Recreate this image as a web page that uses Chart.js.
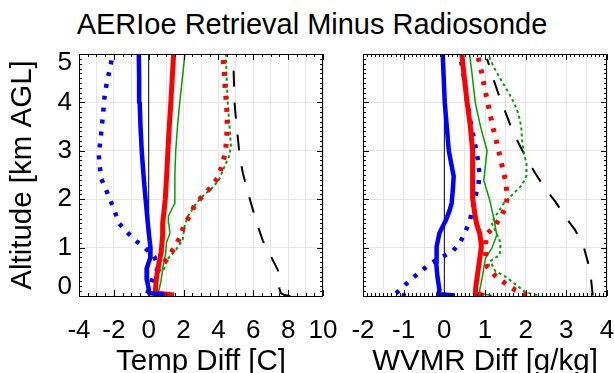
<!DOCTYPE html>
<html>
<head>
<meta charset="utf-8">
<script src="https://cdn.jsdelivr.net/npm/chart.js@4.4.1/dist/chart.umd.min.js"></script>
<style>
  html, body { margin: 0; padding: 0; width: 614px; height: 373px; overflow: hidden; background: #fff; }
  #title { position: absolute; left: 0; top: 10px; width: 624px; text-align: center;
           font: 29px/29px "Liberation Sans", Arial, sans-serif; color: #000; }
  canvas { position: absolute; top: 0; }
</style>
</head>
<body>
<div id="title">AERIoe Retrieval Minus Radiosonde</div>
<canvas id="graficoTemp" width="345" height="385" style="left:0px"></canvas>
<canvas id="graficoWvmr" width="300" height="385" style="left:330px"></canvas>
<script>
// Altitude [km AGL] and difference values

// Temperature panel [C]
const tempAltBlueSolid = [0.02, 0.06, 0.15, 0.35, 0.57, 0.8, 1.0, 1.25, 1.5, 2.0, 2.5, 3.0, 3.5, 4.0, 4.5, 5.0];
const tempBlueSolid = [0.92, 0.02, 0.0, -0.12, -0.12, 0.1, 0.1, 0.02, -0.05, -0.18, -0.3, -0.4, -0.47, -0.52, -0.55, -0.57];

const tempAltRedSolid = [0.02, 0.06, 0.1, 0.37, 0.64, 0.92, 1.26, 1.5, 2.0, 2.5, 3.0, 3.5, 4.0, 4.5, 5.0];
const tempRedSolid = [1.45, 0.4, 0.38, 0.44, 0.57, 0.72, 0.8, 0.8, 0.95, 1.03, 1.1, 1.18, 1.27, 1.35, 1.43];

const tempAltGreenSolid = [0.06, 0.3, 0.6, 0.88, 1.1, 1.3, 1.5, 1.65, 1.9, 2.5, 3.0, 3.5, 4.0, 4.5, 5.0];
const tempGreenSolid = [0.55, 0.7, 0.82, 0.97, 1.02, 1.22, 1.15, 1.13, 1.47, 1.5, 1.55, 1.65, 1.78, 1.93, 2.08];

const tempAltBlueDot = [0.05, 0.38, 0.6, 0.81, 0.99, 1.14, 1.32, 1.5, 1.74, 1.98, 2.22, 2.44, 2.68, 2.94, 3.2, 3.44, 3.68, 3.93, 4.18, 4.43, 4.67, 4.93, 5.0];
const tempBlueDot = [-0.08, 0.25, 0.55, 0.32, -0.2, -0.74, -1.24, -1.7, -1.94, -2.2, -2.48, -2.74, -2.81, -2.87, -2.77, -2.71, -2.64, -2.58, -2.52, -2.39, -2.24, -2.1, -2.07];

const tempAltRedDot = [0.5, 0.62, 0.78, 1.0, 1.23, 1.45, 1.67, 1.9, 2.09, 2.27, 2.48, 2.72, 2.96, 3.22, 3.47, 3.71, 3.96, 4.21, 4.46, 4.7, 4.96, 5.0];
const tempRedDot = [0.5, 0.72, 1.09, 1.47, 1.82, 2.01, 2.37, 2.67, 3.16, 3.63, 4.02, 4.21, 4.4, 4.46, 4.5, 4.5, 4.46, 4.4, 4.36, 4.32, 4.25, 4.24];

const tempAltGreenDot = [0.54, 0.75, 0.96, 1.16, 1.43, 1.64, 1.9, 2.05, 2.22, 2.39, 2.63, 2.87, 3.08, 3.22, 3.56, 3.9, 4.25, 4.6, 4.88, 5.0];
const tempGreenDot = [0.86, 1.05, 1.57, 1.95, 2.05, 2.24, 2.7, 3.06, 3.6, 4.02, 4.3, 4.59, 4.72, 4.69, 4.63, 4.55, 4.5, 4.46, 4.44, 4.44];

const tempAltBlackDash = [0.0, 0.02, 0.06, 0.15, 0.53, 0.84, 1.15, 1.5, 1.84, 2.18, 2.53, 2.87, 3.25, 3.56, 3.97, 5.0];
const tempBlackDash = [8.13, 7.8, 7.58, 7.5, 7.42, 6.98, 6.54, 6.21, 5.93, 5.66, 5.41, 5.22, 5.12, 5.03, 4.93, 4.84];

// Water vapour mixing ratio panel [g/kg]
const wvAltBlueSolid = [0.01, 0.04, 0.12, 0.4, 0.68, 1.02, 1.3, 1.57, 1.77, 1.92, 2.2, 2.47, 3.0, 4.0, 5.0];
const wvBlueSolid = [0.26, -0.15, -0.12, -0.17, -0.2, -0.19, -0.12, 0.04, 0.13, 0.18, 0.21, 0.23, 0.11, 0.01, -0.04];

const wvAltRedSolid = [0.01, 0.05, 0.23, 0.71, 1.01, 1.12, 1.29, 1.47, 1.63, 2.0, 2.52, 3.0, 3.5, 4.0, 4.6, 5.0];
const wvRedSolid = [0.97, 0.76, 0.78, 0.86, 0.91, 0.9, 0.87, 0.8, 0.76, 0.7, 0.7, 0.69, 0.64, 0.56, 0.48, 0.43];

const wvAltGreenSolid = [0.01, 0.05, 0.12, 0.37, 0.78, 0.99, 1.26, 1.63, 2.0, 2.39, 3.0, 3.5, 4.0, 4.6, 5.0];
const wvGreenSolid = [1.17, 0.88, 0.87, 0.93, 1.01, 1.17, 1.29, 1.21, 1.11, 0.97, 1.05, 0.89, 0.76, 0.68, 0.62];

const wvAltBlueDot = [0.0, 0.04, 0.19, 0.37, 0.52, 0.68, 0.8, 0.92, 1.11, 1.33, 1.57, 1.81, 2.05, 2.29, 2.54, 2.79, 3.03, 3.28, 3.53, 3.78, 4.02, 4.27, 4.52, 4.77, 5.0];
const wvBlueDot = [-0.95, -1.21, -1.01, -0.78, -0.56, -0.33, -0.07, 0.2, 0.39, 0.52, 0.63, 0.7, 0.76, 0.84, 0.86, 0.83, 0.78, 0.72, 0.66, 0.61, 0.56, 0.52, 0.48, 0.43, 0.38];

const wvAltRedDot = [0.02, 0.12, 0.26, 0.42, 0.6, 0.8, 1.0, 1.26, 1.45, 1.65, 1.88, 2.12, 2.37, 2.61, 2.85, 3.09, 3.33, 3.58, 3.82, 4.07, 4.32, 4.58, 4.82, 5.0];
const wvRedDot = [2.03, 1.75, 1.5, 1.25, 1.06, 1.02, 1.01, 1.03, 1.24, 1.4, 1.53, 1.54, 1.51, 1.44, 1.38, 1.31, 1.24, 1.17, 1.11, 1.05, 0.98, 0.93, 0.86, 0.82];

const wvAltGreenDot = [0.02, 0.08, 0.24, 0.4, 0.52, 0.72, 0.85, 1.05, 1.15, 1.52, 1.73, 1.91, 2.12, 2.29, 2.49, 2.73, 2.98, 3.23, 3.5, 3.74, 3.98, 4.2, 4.6, 4.84, 5.0];
const wvGreenDot = [2.28, 1.99, 1.75, 1.5, 1.25, 1.13, 1.36, 1.38, 1.36, 1.16, 1.32, 1.46, 1.7, 1.91, 2.02, 2.02, 1.95, 1.91, 1.89, 1.83, 1.72, 1.58, 1.3, 1.15, 1.08];

const wvAltBlackDash = [0.01, 0.33, 0.7, 1.01, 1.36, 1.63, 1.95, 2.22, 2.53, 2.84, 3.15, 3.47, 3.85, 4.1, 4.5, 4.9];
const wvBlackDash = [3.65, 3.61, 3.53, 3.43, 3.22, 2.98, 2.73, 2.48, 2.24, 2.02, 1.83, 1.65, 1.48, 1.36, 1.2, 1.05];

// zero reference line
const zeroAlt = [0, 5];
const zeroVal = [0, 0];

const altTicks = [0, 1, 2, 3, 4, 5];

const FONT = '"Liberation Sans", Arial, Helvetica, sans-serif';

const pairs = (alts, vals) => alts.map((a, i) => ({ x: vals[i], y: a }));

function line(alts, vals, color, width, dash) {
    return {
        data: pairs(alts, vals),
        showLine: true,
        borderColor: color,
        backgroundColor: color,
        borderWidth: width,
        borderDash: dash || [],
        borderCapStyle: 'butt',
        borderJoinStyle: 'round',
        pointRadius: 0,
        tension: 0
    };
}

// inward tick marks and black frame around the plot area
const frameTicks = {
    id: 'frameTicks',
    afterDatasetsDraw(chart, args, opts) {
        const { ctx, chartArea: a, scales: { x, y } } = chart;
        const isMajor = (v, step) => Math.abs(v / step - Math.round(v / step)) < 1e-6;
        ctx.save();
        ctx.strokeStyle = '#000';
        ctx.lineWidth = 1;
        ctx.beginPath();
        let n = Math.round((x.max - x.min) / opts.xMinor);
        for (let i = 0; i <= n; i++) {
            const v = x.min + i * opts.xMinor;
            const px = Math.round(x.getPixelForValue(v)) + 0.5;
            const len = isMajor(v, opts.xMajor) ? 6 : 3;
            ctx.moveTo(px, a.bottom); ctx.lineTo(px, a.bottom - len);
            ctx.moveTo(px, a.top); ctx.lineTo(px, a.top + len);
        }
        n = Math.round((y.max - y.min) / opts.yMinor);
        for (let i = 0; i <= n; i++) {
            const v = y.min + i * opts.yMinor;
            const py = Math.round(y.getPixelForValue(v)) + 0.5;
            const len = isMajor(v, opts.yMajor) ? 6 : 3;
            ctx.moveTo(a.left, py); ctx.lineTo(a.left + len, py);
            ctx.moveTo(a.right, py); ctx.lineTo(a.right - len, py);
        }
        ctx.stroke();
        ctx.strokeRect(Math.round(a.left) + 0.5, Math.round(a.top) + 0.5,
                       Math.round(a.width) - 1, Math.round(a.height));
        ctx.restore();
    }
};

function criarGrafico(id, cfg) {
    const ctx = document.getElementById(id).getContext('2d');
    return new Chart(ctx, {
        type: 'scatter',
        data: { datasets: cfg.datasets },
        plugins: [frameTicks],
        options: {
            responsive: false,
            animation: false,
            devicePixelRatio: 1,
            layout: { padding: { left: 0, right: cfg.padRight, top: 54, bottom: 0 } },
            plugins: {
                legend: { display: false },
                tooltip: { enabled: false },
                frameTicks: { xMajor: cfg.labelStep, xMinor: cfg.minorStep, yMajor: 1, yMinor: 0.1 }
            },
            scales: {
                x: {
                    type: 'linear',
                    min: cfg.xMin,
                    max: cfg.xMax,
                    afterFit: s => { s.height = 89; s.paddingLeft = 0; s.paddingRight = 0; },
                    border: { display: false },
                    grid: { color: '#e6e6e6', drawTicks: false },
                    ticks: {
                        stepSize: cfg.gridStep,
                        autoSkip: false,
                        maxRotation: 0,
                        padding: 19,
                        color: '#000',
                        font: { family: FONT, size: 26 },
                        callback: v => (Math.abs(v / cfg.labelStep - Math.round(v / cfg.labelStep)) < 1e-6 ? String(Math.round(v)) : '')
                    },
                    title: {
                        display: true,
                        text: cfg.xTitle,
                        color: '#000',
                        font: { family: FONT, size: 29.5 },
                        padding: { top: 0, bottom: 5 }
                    }
                },
                y: {
                    type: 'linear',
                    min: 0,
                    max: 5,
                    afterFit: s => { s.width = cfg.yWidth; s.paddingTop = 0; s.paddingBottom = 0; },
                    afterBuildTicks: s => { s.ticks = altTicks.map(v => ({ value: v })); },
                    border: { display: false },
                    grid: { color: '#e6e6e6', drawTicks: false },
                    ticks: {
                        display: cfg.yLabels,
                        padding: 7,
                        color: '#000',
                        font: { family: FONT, size: 26, lineHeight: 0.7 },
                        // end labels sit just inside the frame
                        callback: v => (v === 5 ? ['', '5'] : v === 0 ? ['0', ''] : String(v))
                    },
                    title: {
                        display: cfg.yLabels,
                        text: 'Altitude [km AGL]',
                        color: '#000',
                        font: { family: FONT, size: 29.5 },
                        padding: { top: 5, bottom: 0 }
                    }
                }
            }
        }
    });
}

criarGrafico('graficoTemp', {
    xMin: -4, xMax: 10, gridStep: 1, labelStep: 2, minorStep: 0.5,
    padRight: 22, yWidth: 79, yLabels: true, xTitle: 'Temp Diff [C]',
    datasets: [
        line(tempAltBlueSolid, tempBlueSolid, '#0000ff', 4.5),
        line(tempAltRedSolid, tempRedSolid, '#ff0000', 5),
        line(tempAltBlueDot, tempBlueDot, '#0000ff', 4.5, [4, 8]),
        line(tempAltRedDot, tempRedDot, '#ff0000', 5, [4, 8]),
        line(tempAltGreenSolid, tempGreenSolid, '#00a000', 1.5),
        line(tempAltGreenDot, tempGreenDot, '#00a000', 2, [3, 3]),
        line(tempAltBlackDash, tempBlackDash, '#000000', 2, [16, 16]),
        line(zeroAlt, zeroVal, '#000000', 1)
    ]
});

criarGrafico('graficoWvmr', {
    xMin: -2, xMax: 4, gridStep: 0.5, labelStep: 1, minorStep: 0.1,
    padRight: 23, yWidth: 33, yLabels: false, xTitle: 'WVMR Diff [g/kg]',
    datasets: [
        line(wvAltBlueSolid, wvBlueSolid, '#0000ff', 4.5),
        line(wvAltRedSolid, wvRedSolid, '#ff0000', 5),
        line(wvAltBlueDot, wvBlueDot, '#0000ff', 4.5, [4, 8]),
        line(wvAltRedDot, wvRedDot, '#ff0000', 5, [4, 8]),
        line(wvAltGreenSolid, wvGreenSolid, '#00a000', 1.5),
        line(wvAltGreenDot, wvGreenDot, '#00a000', 2, [3, 3]),
        line(wvAltBlackDash, wvBlackDash, '#000000', 2, [16, 16]),
        line(zeroAlt, zeroVal, '#000000', 1)
    ]
});
</script>
</body>
</html>
